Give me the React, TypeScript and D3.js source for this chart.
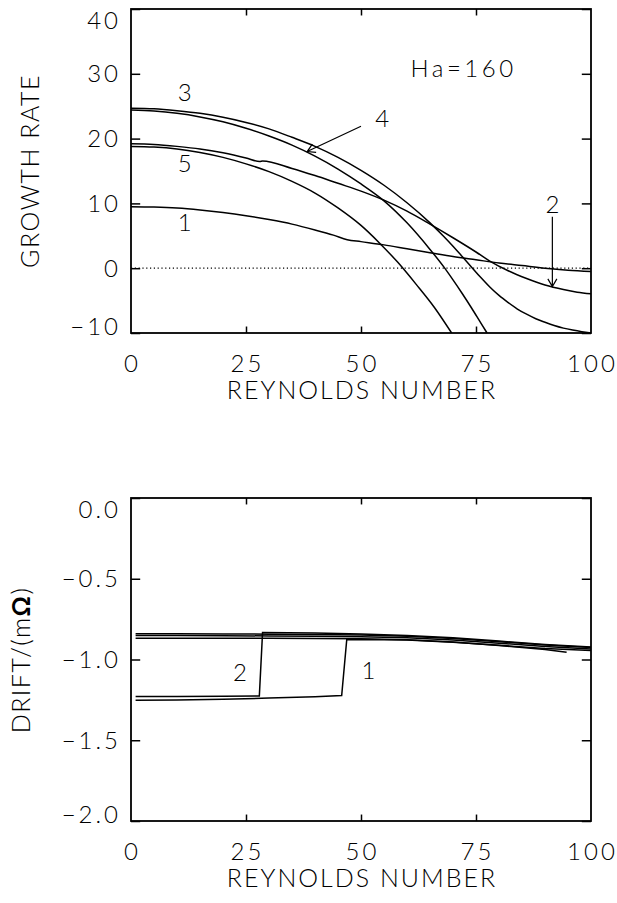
import React, { useEffect, useRef } from "react";
import * as d3 from "d3";

const W = 617;
const H = 903;

// Reynolds number axis
const reTicks = [0, 25, 50, 75, 100];

// growth rate panel
const growthTicks = [-10, 0, 10, 20, 30, 40];
const growthTickLabels = ["\u221210", "0", "10", "20", "30", "40"];

const growth1 = [[0, 9.5], [5, 9.45], [10, 9.3], [15, 9.0], [20, 8.6], [25, 8.1], [30, 7.5], [35, 6.8], [40, 5.9], [44, 5.1], [47, 4.4], [50, 4.1], [55, 3.6], [60, 3.0], [65, 2.4], [70, 1.8], [75, 1.3], [80, 0.8], [85, 0.4], [90, 0.0], [95, -0.3], [100, -0.5]];
const growth2 = [[0, 19.2], [5, 19.1], [10, 18.8], [15, 18.4], [20, 17.8], [25, 17.0], [28, 16.45], [28.6, 16.55], [35, 15.4], [40, 14.3], [45, 13.1], [50, 11.9], [55, 10.5], [60, 8.8], [65, 6.8], [70, 4.7], [75, 2.5], [78, 1.1], [82, -0.4], [86, -1.6], [90, -2.6], [94, -3.3], [97, -3.7], [100, -3.95]];
const growth3 = [[0, 24.7], [5, 24.6], [10, 24.3], [15, 23.9], [20, 23.3], [25, 22.5], [30, 21.5], [35, 20.2], [40, 18.8], [45, 17.1], [50, 15.1], [55, 12.8], [60, 10.1], [65, 7.0], [68, 4.9], [70, 3.4], [72, 1.8], [74, 0.2], [76, -1.4], [78, -2.9], [80, -4.2], [82, -5.3], [84, -6.3], [86, -7.1], [88, -7.8], [90, -8.35], [92, -8.85], [94, -9.25], [96, -9.55], [98, -9.8], [100, -10]];
const growth4 = [[0, 24.4], [5, 24.25], [10, 23.9], [15, 23.35], [20, 22.6], [25, 21.6], [30, 20.4], [35, 19.0], [40, 17.3], [45, 15.3], [50, 13.0], [55, 10.4], [60, 7.0], [65, 2.9], [68, 0.2], [70, -1.8], [72, -3.9], [74, -6.1], [76, -8.4], [77.4, -10]];
const growth5 = [[0, 18.8], [5, 18.7], [10, 18.4], [15, 17.85], [20, 17.1], [25, 16.1], [30, 14.9], [35, 13.4], [40, 11.6], [45, 9.3], [50, 6.6], [54, 3.9], [58, 0.9], [62, -2.5], [66, -6.1], [69.7, -10]];

// drift panel
const driftTicks = [0, -0.5, -1, -1.5, -2];
const driftTickLabels = ["0.0", "\u22120.5", "\u22121.0", "\u22121.5", "\u22122.0"];

const driftA = [[1, -0.841], [10, -0.841], [20, -0.842], [30, -0.843], [40, -0.845], [50, -0.848], [60, -0.856], [70, -0.87], [80, -0.89], [90, -0.91], [100, -0.925]];
const driftB = [[1, -0.852], [10, -0.852], [20, -0.853], [30, -0.854], [40, -0.856], [50, -0.859], [60, -0.866], [70, -0.879], [80, -0.899], [90, -0.92], [100, -0.935]];
const driftC = [[1, -0.868], [10, -0.868], [20, -0.868], [30, -0.869], [40, -0.87], [50, -0.872], [60, -0.878], [70, -0.892], [80, -0.914], [90, -0.938], [94.7, -0.955]];
const drift2 = [[1, -1.229], [10, -1.229], [20, -1.228], [27.9, -1.226], [28.6, -0.833], [40, -0.836], [50, -0.842], [60, -0.851], [70, -0.866], [80, -0.886], [90, -0.907], [100, -0.922]];
const drift1 = [[1, -1.253], [10, -1.251], [20, -1.246], [30, -1.239], [40, -1.23], [45.8, -1.223], [46.9, -0.877], [50, -0.876], [60, -0.88], [70, -0.893], [80, -0.912], [90, -0.932], [100, -0.945]];

// curve labels, in data units
const growthNotes = [
  { text: "3", x: 11.7, y: 27.2 },
  { text: "5", x: 11.7, y: 16.2 },
  { text: "1", x: 11.7, y: 7.1 },
  { text: "4", x: 54.6, y: 23.2 },
  { text: "2", x: 91.6, y: 9.8 },
  { text: "Ha=160", x: 72.3, y: 30.9 },
];
const growthArrows = [
  { from: [50, 21.9], to: [38.3, 18.0] },
  { from: [91.6, 7.95], to: [91.6, -2.85] },
];
const driftNotes = [
  { text: "2", x: 23.7, y: -1.08 },
  { text: "1", x: 51.6, y: -1.07 },
];

const FONT = "Lato, 'DejaVu Sans', sans-serif";
const LEFT = 131;
const RIGHT = 591;
const NUM = 24;
const TITLE = 25;

const App = () => {
  const svgRef = useRef<SVGSVGElement>(null);

  useEffect(() => {
    const svg = d3.select(svgRef.current);
    svg.selectAll("*").remove();

    const x = d3.scaleLinear().domain([0, 100]).range([LEFT, RIGHT]);

    const panel = (top: number, bottom: number, domain: number[], ticks: number[], labels: string[], id: string) => {
      const y = d3.scaleLinear().domain(domain).range([bottom, top]);
      const g = svg.append("g").attr("font-family", FONT).attr("font-weight", 300).attr("fill", "#000");

      g.append("clipPath").attr("id", id)
        .append("rect").attr("x", LEFT).attr("y", top).attr("width", RIGHT - LEFT).attr("height", bottom - top);

      const tx = 0.02 * (bottom - top);
      const ty = 0.02 * (RIGHT - LEFT);

      g.append("g").attr("transform", `translate(0,${bottom})`)
        .call(d3.axisBottom(x).tickValues([25, 50, 75]).tickSize(-tx).tickFormat(() => ""))
        .call((s) => s.select(".domain").remove());
      g.append("g").attr("transform", `translate(0,${top})`)
        .call(d3.axisTop(x).tickValues([25, 50, 75]).tickSize(-tx).tickFormat(() => ""))
        .call((s) => s.select(".domain").remove());
      g.append("g").attr("transform", `translate(${LEFT},0)`)
        .call(d3.axisLeft(y).tickValues(ticks).tickSize(-ty).tickFormat(() => ""))
        .call((s) => s.select(".domain").remove());
      g.append("g").attr("transform", `translate(${RIGHT},0)`)
        .call(d3.axisRight(y).tickValues(ticks).tickSize(-ty).tickFormat(() => ""))
        .call((s) => s.select(".domain").remove());
      g.selectAll(".tick line").attr("stroke-width", 1.5);

      g.append("rect")
        .attr("x", LEFT).attr("y", top)
        .attr("width", RIGHT - LEFT).attr("height", bottom - top)
        .attr("fill", "none").attr("stroke", "#000").attr("stroke-width", 1.8);

      // y tick labels, end labels kept inside the frame height
      g.append("g").selectAll("text").data(ticks).join("text")
        .attr("x", 121)
        .attr("y", (d) => Math.min(Math.max(y(d), top + 11.5), bottom - 7))
        .attr("dy", "0.36em")
        .attr("text-anchor", "end")
        .attr("font-size", NUM)
        .attr("letter-spacing", 3)
        .text((d, i) => labels[i]);

      g.append("g").selectAll("text").data(reTicks).join("text")
        .attr("x", (d) => x(d) + 1.5)
        .attr("y", bottom + 39)
        .attr("text-anchor", "middle")
        .attr("font-size", NUM)
        .attr("letter-spacing", 3)
        .text((d) => d);

      g.append("text")
        .attr("x", 362)
        .attr("y", bottom + 66)
        .attr("text-anchor", "middle")
        .attr("font-size", TITLE)
        .attr("letter-spacing", 2)
        .text("REYNOLDS NUMBER");

      return { g, y };
    };

    const line = (y: d3.ScaleLinear<number, number>, curve: d3.CurveFactory) =>
      d3.line<number[]>().x((d) => x(d[0])).y((d) => y(d[1])).curve(curve);

    // top panel
    const top = panel(9, 333, [-10, 40], growthTicks, growthTickLabels, "clipTop");
    const gy = top.y;

    top.g.append("line")
      .attr("x1", x(0)).attr("x2", x(100))
      .attr("y1", gy(0)).attr("y2", gy(0))
      .attr("stroke", "#000").attr("stroke-width", 1.2)
      .attr("stroke-dasharray", "1.2,2.6");

    top.g.append("g").attr("clip-path", "url(#clipTop)")
      .selectAll("path").data([growth1, growth2, growth3, growth4, growth5]).join("path")
      .attr("d", (d) => line(gy, d3.curveMonotoneX)(d))
      .attr("fill", "none").attr("stroke", "#000").attr("stroke-width", 1.5);

    top.g.append("g").selectAll("text").data(growthNotes).join("text")
      .attr("x", (d) => x(d.x))
      .attr("y", (d) => gy(d.y))
      .attr("dy", "0.36em")
      .attr("text-anchor", "middle")
      .attr("font-size", NUM)
      .attr("letter-spacing", (d) => (d.text.length > 1 ? 3.5 : 0))
      .text((d) => d.text);

    growthArrows.forEach((a) => {
      const x1 = x(a.from[0]), y1 = gy(a.from[1]);
      const x2 = x(a.to[0]), y2 = gy(a.to[1]);
      const ang = Math.atan2(y2 - y1, x2 - x1);
      const len = 9, spread = Math.PI / 6;
      const p1 = [x2 - len * Math.cos(ang - spread), y2 - len * Math.sin(ang - spread)];
      const p2 = [x2 - len * Math.cos(ang + spread), y2 - len * Math.sin(ang + spread)];
      top.g.append("path")
        .attr("d", `M${x1},${y1}L${x2},${y2}M${p1[0]},${p1[1]}L${x2},${y2}L${p2[0]},${p2[1]}`)
        .attr("fill", "none").attr("stroke", "#000").attr("stroke-width", 1.2);
    });

    top.g.append("text")
      .attr("transform", `translate(29.5,171) rotate(-90)`)
      .attr("dy", "0.36em")
      .attr("text-anchor", "middle")
      .attr("font-size", TITLE)
      .attr("letter-spacing", 1.5)
      .text("GROWTH RATE");

    // bottom panel
    const bot = panel(498, 821, [-2, 0], driftTicks, driftTickLabels, "clipBot");
    const dy = bot.y;

    bot.g.append("g").attr("clip-path", "url(#clipBot)")
      .selectAll("path").data([driftA, driftB, driftC, drift2, drift1]).join("path")
      .attr("d", (d) => line(dy, d3.curveLinear)(d))
      .attr("fill", "none").attr("stroke", "#000").attr("stroke-width", 1.5);

    bot.g.append("g").selectAll("text").data(driftNotes).join("text")
      .attr("x", (d) => x(d.x))
      .attr("y", (d) => dy(d.y))
      .attr("dy", "0.36em")
      .attr("text-anchor", "middle")
      .attr("font-size", NUM)
      .text((d) => d.text);

    const yt = bot.g.append("text")
      .attr("transform", `translate(21,660) rotate(-90)`)
      .attr("dy", "0.36em")
      .attr("text-anchor", "middle")
      .attr("font-size", TITLE)
      .attr("letter-spacing", 1.5);
    yt.append("tspan").text("DRIFT/(m");
    yt.append("tspan").attr("font-weight", "bold").text("\u03A9");
    yt.append("tspan").text(")");
  }, []);

  return (
    <svg
      ref={svgRef}
      width={W}
      height={H}
      style={{ position: "absolute", left: 0, top: 0, background: "white" }}
    />
  );
};

export default App;
